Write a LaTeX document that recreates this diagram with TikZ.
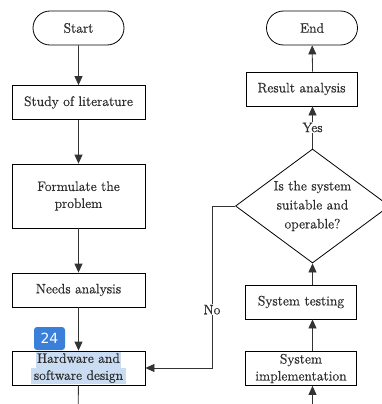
\documentclass[tikz,border=0pt]{standalone}
\usepackage{fontspec}
\newfontfamily\lmr{Latin Modern Roman}[FakeBold=0.7]
\newfontfamily\badgefont{DejaVu Sans}
\usetikzlibrary{arrows.meta,shapes.geometric,shapes.misc}
\definecolor{badge}{HTML}{3A7FD9}
\definecolor{hl}{HTML}{C9DCF2}
\definecolor{ink}{HTML}{2E2E2E}
\tikzset{
  x=1pt,y=1pt,
  every node/.style={font=\lmr\fontsize{13.7}{17}\selectfont, text=ink},
  term/.style={draw, line width=0.8pt, rounded rectangle, minimum width=91pt, minimum height=34pt, inner sep=0pt},
  box/.style={draw, line width=0.8pt, rectangle, minimum height=34pt, inner sep=0pt, align=center},
  lbox/.style={box, minimum width=133pt},
  rbox/.style={box, minimum width=111pt},
  dec/.style={draw, line width=0.8pt, diamond, minimum width=154pt, minimum height=114pt, aspect=1.35, inner sep=0pt, align=center, font=\lmr\fontsize{13.7}{19}\selectfont},
  arr/.style={line width=0.8pt, draw=black!80, -{Triangle[length=9pt,width=8pt]}},
  ln/.style={line width=0.8pt, draw=black!80},
  lab/.style={fill=white, inner sep=1pt}
}
\begin{document}
\begin{tikzpicture}
\useasboundingbox (0,0) rectangle (382,-404);
\clip (0,0) rectangle (382,-404);
% left column
\node[term] (start) at (78.5,-28) {Start};
\node[lbox] (lit) at (78.5,-102.5) {Study of literature};
\node[lbox, minimum height=64pt] (form) at (78.5,-196) {Formulate the\\problem};
\node[lbox] (needs) at (78.5,-290) {Needs analysis};
% highlight behind text
\fill[hl] (36,-352) rectangle (121,-367.5);
\fill[hl] (31,-368) rectangle (126,-384);
\node[lbox] (hw) at (78.5,-368) {Hardware and\\software design};
\coordinate (lend) at (78.3,-404);
% right column
\node[term] (end) at (312,-28) {End};
\node[rbox] (res) at (301.5,-89) {Result analysis};
\node[dec] (dia) at (312.5,-206) {Is the system\\suitable and\\operable?};
\node[rbox] (test) at (301,-302) {System testing};
\node[rbox] (impl) at (301,-368.5) {System\\implementation};
\coordinate (rstart) at (312.5,-404);
\coordinate (nox) at (212,-206);
% connectors
\draw[arr] (start) -- (lit);
\draw[arr] (lit) -- (form);
\draw[arr] (form) -- (needs);
\draw[arr] (needs) -- (hw);
\draw[ln] (hw) -- (lend);
\draw[arr] (rstart) -- (rstart |- impl.south);
\draw[arr] (rstart |- impl.north) -- (rstart |- test.south);
\draw[arr] (rstart |- test.north) -- (dia.south);
\draw[arr] (dia.north) -- node[lab, pos=0.5] {Yes} (dia.north |- res.south);
\draw[arr] (dia.north |- res.north) -- (end);
\draw[arr] (dia.west) -- (nox) -- node[lab, pos=0.64] {No} (nox |- hw.east) -- (hw.east);
% badge
\node[fill=badge, rounded corners=3pt, minimum width=31pt, minimum height=23pt, inner sep=0pt, text=white, font=\badgefont\fontsize{14}{14}\selectfont] (badge) at (49.5,-338.5) {24};
\end{tikzpicture}
\end{document}
